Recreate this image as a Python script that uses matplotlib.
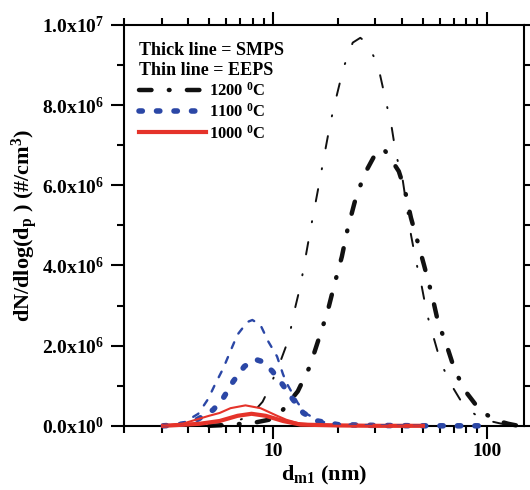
import matplotlib
matplotlib.use("Agg")
import matplotlib.pyplot as plt
from matplotlib.ticker import FixedLocator, FixedFormatter, LogLocator, NullFormatter

plt.rcParams['font.family'] = 'Liberation Serif'
plt.rcParams['font.weight'] = 'bold'
plt.rcParams['mathtext.fontset'] = 'custom'
plt.rcParams['mathtext.rm'] = 'Liberation Serif:bold'
plt.rcParams['mathtext.it'] = 'Liberation Serif:bold:italic'
plt.rcParams['mathtext.bf'] = 'Liberation Serif:bold'
plt.rcParams['mathtext.default'] = 'rm'
plt.rcParams['lines.scale_dashes'] = False

# 1200 C, EEPS (thin)
d_eeps_1200 = [5.0, 5.5, 6.5, 7.2, 8.0, 8.9, 9.4, 10.6, 11.8, 12.5, 13.4, 14.1, 14.9, 15.7, 16.6,
               17.5, 18.5, 19.8, 21.3, 23.5, 25.5, 27.3, 29.5, 31.5, 33.6, 35.8, 37.4, 40.3,
               41.8, 44.0, 46.4, 49.5, 52.3, 56.4, 60.8, 68.5, 78.0, 93.7, 112.7, 130.0]
n_eeps_1200 = [0.0, 0.02, 0.08, 0.18, 0.32, 0.60, 0.86, 1.50, 2.17, 2.84, 3.51, 4.17, 4.89, 5.53, 6.22,
               6.89, 7.58, 8.25, 8.94, 9.56, 9.68, 9.56, 9.21, 8.77, 8.10, 7.43, 6.79, 6.12,
               5.55, 4.77, 4.12, 3.46, 2.79, 2.17, 1.56, 0.99, 0.49, 0.17, 0.07, 0.0]

# 1200 C, SMPS (thick)
d_smps_1200 = [5.0, 6.0, 8.0, 9.5, 10.7, 13.0, 14.8, 16.3, 17.9, 19.3, 20.9, 22.2, 24.0, 26.5,
               30.4, 32.8, 35.8, 38.6, 41.2, 44.0, 47.4, 50.6, 55.2, 58.9, 64.9, 70.8, 80.5,
               93.7, 112.7, 125.6, 140.0]
n_smps_1200 = [0.0, 0.02, 0.07, 0.15, 0.30, 0.86, 1.48, 2.17, 2.84, 3.53, 4.22, 4.89, 5.58, 6.25,
               6.84, 6.91, 6.62, 6.35, 5.88, 5.19, 4.57, 4.02, 3.26, 2.59, 1.98, 1.36, 0.81,
               0.35, 0.12, 0.05, 0.0]

# 1100 C
d_eeps_1100 = [3.05, 3.78, 4.45, 4.95, 5.34, 5.82, 6.28, 6.78, 7.55, 7.97, 8.69, 9.47, 10.4,
               11.1, 11.6, 13.0, 14.1, 16.3, 18.9, 25.0, 35.0, 50.0]
n_eeps_1100 = [0.0, 0.07, 0.30, 0.67, 1.04, 1.43, 1.85, 2.27, 2.59, 2.64, 2.52, 2.10, 1.73,
               1.28, 1.04, 0.57, 0.32, 0.12, 0.05, 0.02, 0.01, 0.0]
d_smps_1100 = [3.05, 3.5, 3.9, 4.45, 5.23, 5.82, 6.49, 7.31, 8.2, 8.9, 9.89, 11.0, 12.3, 13.8,
               16.1, 20.0, 30.0, 50.0, 70.0, 100.0]
n_smps_1100 = [0.0, 0.02, 0.06, 0.17, 0.40, 0.69, 1.11, 1.48, 1.66, 1.60, 1.36, 1.04, 0.67, 0.32,
               0.12, 0.03, 0.01, 0.0, 0.0, 0.0]

# 1000 C
d_eeps_1000 = [3.05, 3.8, 4.45, 5.0, 5.6, 6.3, 7.4, 8.7, 10.4, 11.5, 13.0, 16.0, 20.0, 30.0, 50.0]
n_eeps_1000 = [0.0, 0.06, 0.17, 0.25, 0.32, 0.44, 0.51, 0.44, 0.25, 0.15, 0.07, 0.02, 0.0, 0.0, 0.0]
d_smps_1000 = [3.05, 4.5, 5.6, 6.8, 7.9, 9.2, 11.1, 13.4, 20.0, 30.0, 50.0]
n_smps_1000 = [0.0, 0.05, 0.12, 0.25, 0.30, 0.25, 0.12, 0.03, 0.01, 0.0, 0.0]

y_ticks = [0, 2e6, 4e6, 6e6, 8e6, 1e7]
y_tick_labels = ["0.0x10$^{0}$", "2.0x10$^{6}$", "4.0x10$^{6}$", "6.0x10$^{6}$",
                 "8.0x10$^{6}$", "1.0x10$^{7}$"]
labels = ["1200 $^{0}$C", "1100 $^{0}$C", "1000 $^{0}$C"]

BLACK = '#111111'
BLUE = '#2b47a6'
RED = '#e5332a'


def scale(vals):
    return [v * 1e6 for v in vals]


fig = plt.figure(figsize=(5.3, 4.9), dpi=100)
ax = fig.add_axes([0.234, 0.131, 0.755, 0.818])

# black curves
ax.plot(d_eeps_1200, scale(n_eeps_1200), color=BLACK, lw=1.4, dashes=(9, 14.5, 0.8, 14.5),
        dash_capstyle='round', clip_on=False, zorder=2)
l1200, = ax.plot(d_smps_1200, scale(n_smps_1200), color=BLACK, lw=3.2, dashes=(9, 12.5, 0.5, 12.5),
                 dash_capstyle='round', clip_on=False, zorder=2)

# blue / red
l1100, = ax.plot(d_smps_1100, scale(n_smps_1100), color=BLUE, lw=4.0, dashes=(2.4, 10.2),
                 dash_capstyle='round', clip_on=False, zorder=3)
l1000, = ax.plot(d_smps_1000, scale(n_smps_1000), color=RED, lw=3.0, clip_on=False, zorder=4)
ax.plot(d_eeps_1100, scale(n_eeps_1100), color=BLUE, lw=1.7, dashes=(4.5, 7),
        dash_capstyle='round', clip_on=False, zorder=5)
ax.plot(d_eeps_1000, scale(n_eeps_1000), color=RED, lw=1.5, clip_on=False, zorder=5)

ax.set_xscale('log')
ax.set_xlim(2, 149)
ax.set_ylim(0, 1e7)

ax.xaxis.set_major_locator(FixedLocator([10, 100]))
ax.xaxis.set_major_formatter(FixedFormatter(["10", "100"]))
ax.xaxis.set_minor_locator(LogLocator(base=10, subs=range(2, 10)))
ax.xaxis.set_minor_formatter(NullFormatter())

ax.yaxis.set_major_locator(FixedLocator(y_ticks))
ax.yaxis.set_major_formatter(FixedFormatter(y_tick_labels))
ax.yaxis.set_minor_locator(FixedLocator([1e6, 3e6, 5e6, 7e6, 9e6]))

for s in ax.spines.values():
    s.set_linewidth(1.5)
ax.tick_params(which='both', direction='out', top=True, right=True, width=1.5)
ax.tick_params(which='major', length=9.5, labelsize=14, pad=3)
ax.tick_params(axis='y', which='major', pad=5)
ax.tick_params(which='minor', length=5)

ax.set_xlabel("d$_{\\mathrm{m1}}$ (nm)", fontsize=16, fontweight='bold', labelpad=3)
ax.set_ylabel("dN/dlog(d$_{\\mathrm{p}}$ ) (#/cm$^{3}$)", fontsize=16, fontweight='bold', labelpad=1)

leg = ax.legend([l1200, l1100, l1000], labels, loc='upper left', bbox_to_anchor=(0.0, 0.995),
                frameon=False, fontsize=12, handlelength=4.0, handletextpad=0.2,
                labelspacing=0.2, title="Thick line = SMPS\nThin line = EEPS",
                title_fontproperties={'size': 13, 'weight': 'bold'}, alignment='left')

fig.savefig("out.png", dpi=100)
